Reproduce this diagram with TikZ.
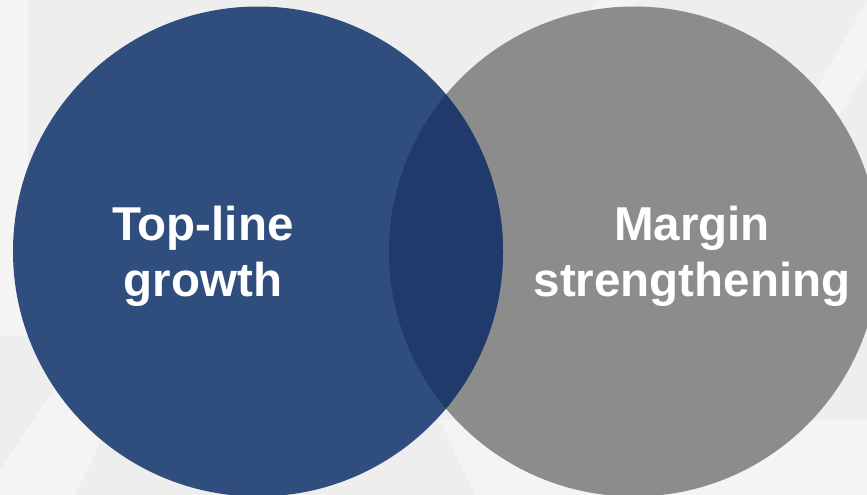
\documentclass[tikz,border=0pt]{standalone}
\usepackage{fontspec}
\setmainfont{Liberation Sans}
\definecolor{bgcol}{HTML}{EEEEEE}
\definecolor{bglight}{HTML}{F4F4F4}
\definecolor{bluecol}{HTML}{2F4E7E}
\definecolor{greycol}{HTML}{8C8C8C}
\definecolor{overlapcol}{HTML}{1F3A6B}
\tikzset{
  setcircle/.style={circle, minimum size=490pt, inner sep=0pt},
  setlabel/.style={text=white, align=center, font=\fontsize{47.5}{55.5}\selectfont\bfseries}
}
\begin{document}
\begin{tikzpicture}[x=1pt, y=-1pt]
    \fill[bgcol] (0,0) rectangle (867,495);
    \useasboundingbox (0,0) rectangle (867,495);
    % faint watermark
    \fill[bglight] (0,0) -- (28,0) -- (28,336) -- (0,336) -- cycle;
    \fill[bglight] (0,495) -- (0,470) -- (60,380) -- (130,380) -- (75,495) -- cycle;
    \fill[bglight] (440,420) -- (475,495) -- (867,495) -- (867,420) -- cycle;
    \fill[bglight] (600,0) -- (640,0) -- (600,30) -- (570,30) -- cycle;
    \fill[bglight] (867,0) -- (867,70) -- (830,130) -- (810,100) -- (867,0) -- cycle;

    \node[setcircle, fill=greycol] (margin) at (634,251.5) {};
    \node[setcircle, fill=bluecol] (topline) at (258,251.5) {};
    \begin{scope}
      \clip (258,251.5) circle (245pt);
      \fill[overlapcol] (634,251.5) circle (245pt);
    \end{scope}

    \node[setlabel] (toplinetext) at (203,256.5) {Top-line\\growth};
    \node[setlabel] (margintext) at (692,256.5) {Margin\\strengthening};
\end{tikzpicture}
\end{document}
